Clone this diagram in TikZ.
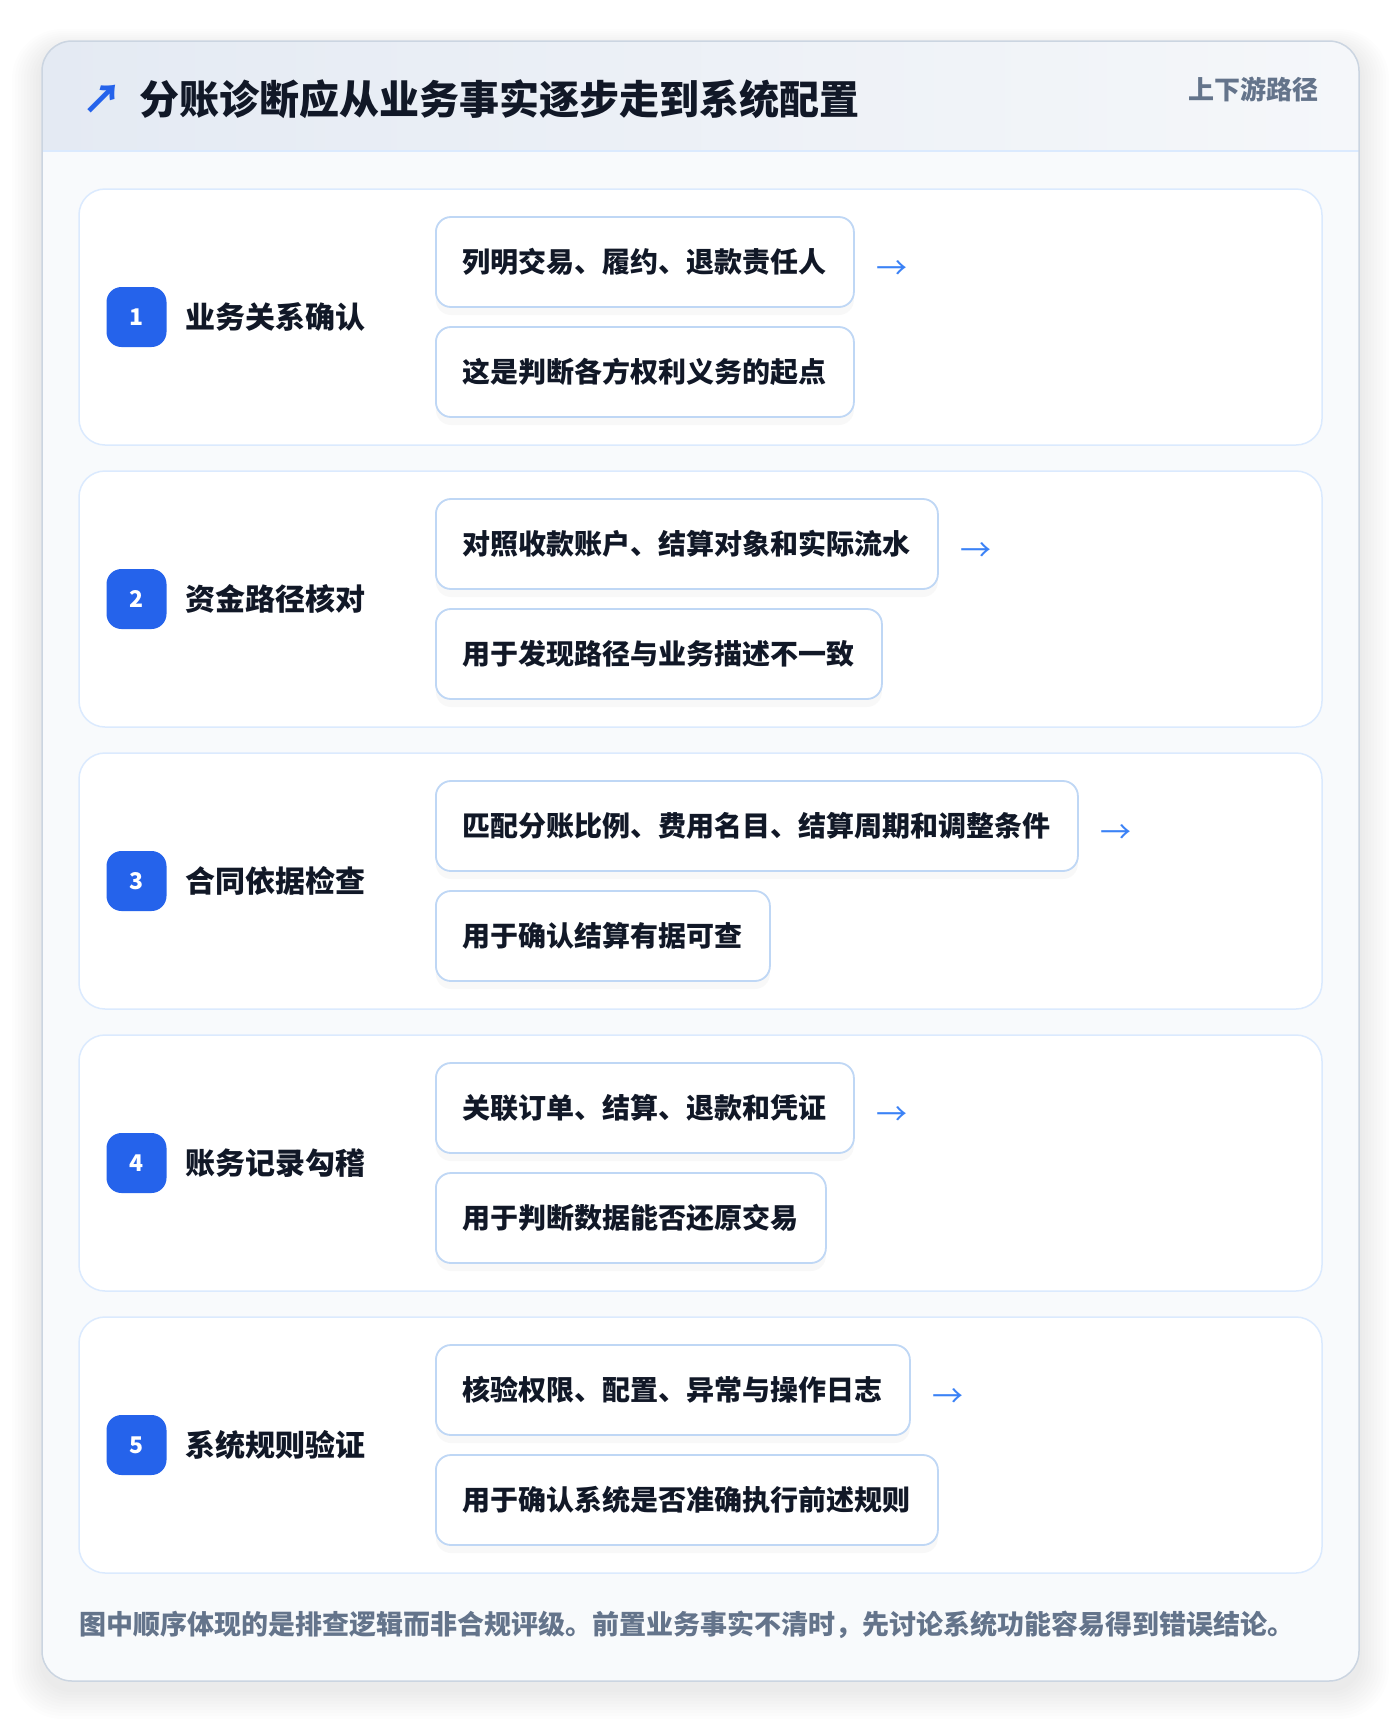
\documentclass[tikz,border=0pt]{standalone}
\usepackage{fontspec}
\setmainfont{Noto Sans CJK SC}
\usetikzlibrary{positioning,shadows}

\definecolor{inkdark}{HTML}{111827}
\definecolor{inkgrey}{HTML}{64748B}
\definecolor{brandblue}{HTML}{2563EB}
\definecolor{arrowblue}{HTML}{3B82F6}
\definecolor{framegrey}{HTML}{CBD5E1}
\definecolor{cardline}{HTML}{DBEAFE}
\definecolor{boxline}{HTML}{BFD7F5}
\definecolor{bodybg}{HTML}{F8FAFC}
\definecolor{headleft}{HTML}{E4EAF3}
\definecolor{headright}{HTML}{F5F7FA}

\tikzset{
  stepcard/.style={draw=cardline, line width=1.5, fill=white, rounded corners=26,
    minimum width=1243, minimum height=256},
  badge/.style={fill=brandblue, rounded corners=15, minimum width=60, minimum height=60,
    text=white, font=\fontsize{23}{26}\selectfont\bfseries, inner sep=0},
  steplabel/.style={anchor=west, inner sep=0, text=inkdark,
    font=\fontsize{30}{36}\selectfont\bfseries},
  itembox/.style={draw=boxline, line width=1.8, fill=white, rounded corners=15,
    minimum height=90, inner xsep=27, anchor=west, text=inkdark,
    font=\fontsize{28}{34}\selectfont\bfseries,
    drop shadow={opacity=0.05, shadow xshift=0pt, shadow yshift=-8pt}},
  arrowtext/.style={inner sep=0, text=arrowblue, font=\fontsize{31}{34}\selectfont}
}

\begin{document}
\begin{tikzpicture}[x=1pt, y=-1pt]
  \useasboundingbox (0,0) rectangle (1400,1722);

  % soft shadow round the card
  \foreach \k in {1,...,10}
    \fill[black, opacity=0.007, rounded corners=30+\k*2]
      (42-\k*3,41-\k*2+8) rectangle (1359+\k*3,1681+\k*3+8);

  % card and header band
  \fill[bodybg, rounded corners=30] (42,41) rectangle (1359,1681);
  \begin{scope}
    \clip[rounded corners=30] (42,41) rectangle (1359,1681);
    \shade[left color=headleft, right color=headright] (42,41) rectangle (1359,151);
  \end{scope}
  \draw[cardline, line width=2] (42,151) -- (1359,151);
  \draw[framegrey, line width=1.5, rounded corners=30] (42,41) rectangle (1359,1681);

  \node[text=brandblue, inner sep=0, font=\fontsize{40}{40}\selectfont\bfseries] (icon) at (102,99) {↗};
  \node[anchor=west, inner sep=0, text=inkdark, font=\fontsize{40}{46}\selectfont\bfseries,
    right=17pt of icon] (title) {分账诊断应从业务事实逐步走到系统配置};
  \node[anchor=east, inner sep=0, text=inkgrey, font=\fontsize{26}{30}\selectfont\bfseries]
    (tag) at (1319,89) {上下游路径};

  % five steps
  \foreach \i/\name/\first/\second in {%
    1/业务关系确认/列明交易、履约、退款责任人/这是判断各方权利义务的起点,
    2/资金路径核对/对照收款账户、结算对象和实际流水/用于发现路径与业务描述不一致,
    3/合同依据检查/匹配分账比例、费用名目、结算周期和调整条件/用于确认结算有据可查,
    4/账务记录勾稽/关联订单、结算、退款和凭证/用于判断数据能否还原交易,
    5/系统规则验证/核验权限、配置、异常与操作日志/用于确认系统是否准确执行前述规则} {
    \pgfmathsetmacro{\y}{317+(\i-1)*282}
    \node[stepcard] (card\i) at (700.5,\y) {};
    \node[badge] (badge\i) at (136.5,\y) {\i};
    \node[steplabel, right=19pt of badge\i] (label\i) {\name};
    \node[itembox] (top\i) at (435,\y-55) {\first};
    \node[itembox] (bottom\i) at (435,\y+55) {\second};
    \node[arrowtext, right=21pt of top\i, yshift=-8pt] (arrow\i) {→};
  }

  \node[anchor=west, inner sep=0, text=inkgrey, font=\fontsize{27}{30}\selectfont\bfseries]
    (note) at (79,1625) {图中顺序体现的是排查逻辑而非合规评级。前置业务事实不清时，先讨论系统功能容易得到错误结论。};
\end{tikzpicture}
\end{document}
